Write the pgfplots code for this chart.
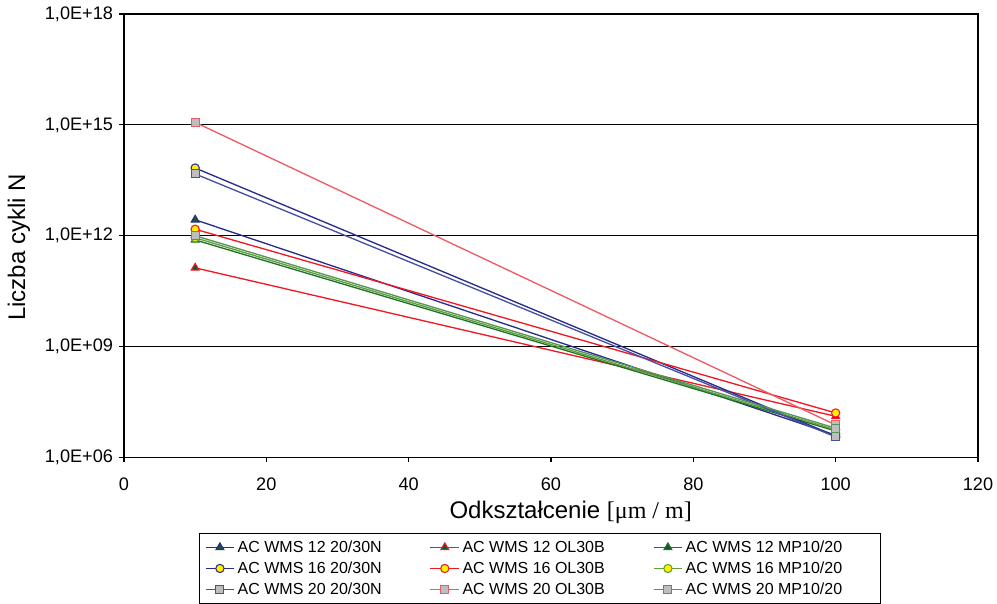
\documentclass[border=0pt]{standalone}
\usepackage{fontspec}
\setmainfont{Liberation Sans}
\newfontfamily\seriffont{Liberation Serif}
\usepackage{pgfplots}
\pgfplotsset{compat=1.18}
\definecolor{cBlue}{RGB}{40,45,140}
\definecolor{sqBlue}{RGB}{70,80,160}
\definecolor{cRed}{RGB}{240,25,35}
\definecolor{sqRed}{RGB}{240,90,100}
\definecolor{cGreen}{RGB}{30,115,40}
\definecolor{cGreenM}{RGB}{95,160,60}
\definecolor{sqGreen}{RGB}{85,150,85}
\definecolor{mkGreen}{RGB}{20,90,40}
\definecolor{mkYellow}{RGB}{255,240,0}
\definecolor{mkGray}{RGB}{190,190,190}
\newcommand{\padr}{\hspace{23pt}\mbox{}}
\begin{document}
\begin{tikzpicture}
\begin{axis}[
  name=ax,
  scale only axis,
  width=640.5pt, height=332.6pt,
  xmin=0, xmax=120, ymin=1e6, ymax=1e18,
  ymode=log,
  xtick={0,20,...,120},
  ytick={1e6,1e9,1e12,1e15,1e18},
  yticklabels={{1,0E+06},{1,0E+09},{1,0E+12},{1,0E+15},{1,0E+18}},
  yminorticks=false,
  ymajorgrids,
  major grid style={black, line width=0.8pt},
  axis line style={black, line width=0.8pt},
  tick style={black, line width=0.8pt},
  tick align=outside,
  major tick length=3.75pt,
  xtick pos=bottom, ytick pos=left,
  /pgf/number format/assume math mode=true,
  ticklabel style={font=\fontsize{13.6}{16}\selectfont},
  xticklabel style={yshift=-8pt},
  yticklabel style={xshift=-1pt},
  xlabel={Odkształcenie {\seriffont[μm / m]}},
  ylabel={Liczba cykli N},
  label style={font=\fontsize{18}{20}\selectfont},
  xlabel style={at={(axis description cs:0.523,-0.124)}, anchor=center},
  ylabel style={at={(axis description cs:-0.123,0.4735)}, anchor=center},
  legend columns=3,
  legend cell align=left,
  legend style={
    at={(axis description cs:0.0878,-0.1695)}, anchor=north west,
    draw=black, line width=0.8pt,
    font=\fontsize{12}{14}\selectfont,
    inner xsep=4pt, inner ysep=3.6pt,
    row sep=1.6pt,
    /tikz/every even column/.append style={column sep=34pt},
  },
  legend image code/.code={
    \draw[mark repeat=2,mark phase=2] plot coordinates {(0cm,0cm) (0.38cm,0cm) (0.76cm,0cm)};
  },
  every axis plot/.append style={line width=1pt},
]
% row 1
\addplot[color=cBlue, mark=triangle*, mark size=3.4pt, mark options={fill=mkGreen, draw=cBlue, line width=0.8pt}] coordinates {(10,2.7e12) (100,4.0e6)};
\addlegendentry{AC WMS 12 20/30N}
\addplot[color=cRed, mark=triangle*, mark size=3.4pt, mark options={fill=mkGreen, draw=cRed, line width=0.8pt}] coordinates {(10,1.35e11) (100,1.3e7)};
\addlegendentry{AC WMS 12 OL30B}
\addplot[color=cGreen, mark=triangle*, mark size=3.4pt, mark options={fill=mkGreen, draw=cGreen, line width=0.8pt}] coordinates {(10,7.7e11) (100,5.2e6)};
\addlegendentry{AC WMS 12 MP10/20\padr}
% row 2
\addplot[color=cBlue, mark=*, mark size=3.1pt, mark options={fill=mkYellow, draw=cBlue, line width=0.8pt}] coordinates {(10,6.8e13) (100,3.8e6)};
\addlegendentry{AC WMS 16 20/30N}
\addplot[color=cRed, mark=*, mark size=3.1pt, mark options={fill=mkYellow, draw=cRed, line width=0.8pt}] coordinates {(10,1.5e12) (100,1.6e7)};
\addlegendentry{AC WMS 16 OL30B}
\addplot[color=cGreenM, mark=*, mark size=3.1pt, mark options={fill=mkYellow, draw=cGreenM, line width=0.8pt}] coordinates {(10,8.8e11) (100,5.6e6)};
\addlegendentry{AC WMS 16 MP10/20\padr}
% row 3
\addplot[color=sqBlue, mark=square*, mark size=3pt, mark options={fill=mkGray, draw=sqBlue, line width=0.8pt}] coordinates {(10,4.7e13) (100,3.6e6)};
\addlegendentry{AC WMS 20 20/30N}
\addplot[color=sqRed, mark=square*, mark size=3pt, mark options={fill=mkGray, draw=sqRed, line width=0.8pt}] coordinates {(10,1.17e15) (100,7.6e6)};
\addlegendentry{AC WMS 20 OL30B}
\addplot[color=sqGreen, mark=square*, mark size=3pt, mark options={fill=mkGray, draw=sqGreen, line width=0.8pt}] coordinates {(10,1.0e12) (100,6.2e6)};
\addlegendentry{AC WMS 20 MP10/20\padr}
\end{axis}
\pgfresetboundingbox
\path[use as bounding box] ([shift={(-93pt,-109.875pt)}]ax.south west) rectangle ([shift={(14.25pt,10.5pt)}]ax.north east);
\end{tikzpicture}
\end{document}
